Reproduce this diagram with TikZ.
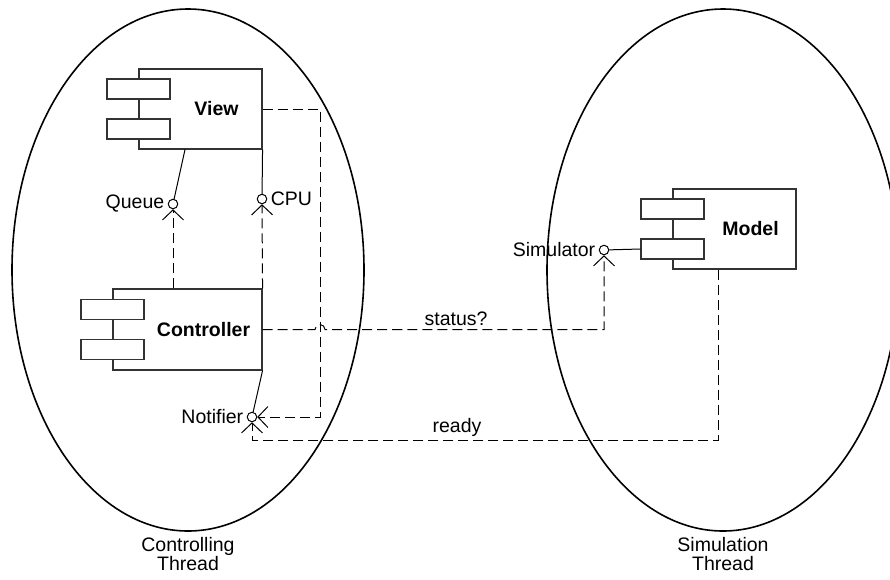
\documentclass[tikz,border=0pt]{standalone}
\usepackage{fontspec}
\setmainfont{Liberation Sans}
\usetikzlibrary{arrows.meta,positioning,calc,shapes.geometric}

\begin{document}
\begin{tikzpicture}[
  x=1pt, y=-1pt,
  thread/.style={ellipse, draw, line width=1.6pt, minimum width=352pt, minimum height=522pt, inner sep=0pt},
  comp/.style={rectangle, draw=black!80, line width=1.1pt, minimum width=123pt, minimum height=80pt, inner sep=0pt},
  port/.style={rectangle, draw=black!80, fill=white, line width=1.1pt, minimum width=63pt, minimum height=20pt, inner sep=0pt},
  iface/.style={circle, draw, line width=1pt, minimum size=9.5pt, inner sep=0pt, label distance=1.5pt},
  compname/.style={font=\fontsize{19.5}{22}\selectfont\bfseries},
  txt/.style={font=\fontsize{19.5}{19.5}\selectfont},
  dep/.style={draw, line width=1pt, dash pattern=on 10pt off 5pt, -{Straight Barb[length=10pt, width=21pt]}},
  link/.style={draw, line width=1pt}
]
\useasboundingbox (0,0) rectangle (890,579);

% threads
\node[thread] (ctrlthread) at (188,270) {};
\node[thread] (simthread) at (723,270) {};
\node[txt, align=center, below=3pt of ctrlthread, inner sep=2pt] (ctrlthread_lbl) {Controlling\\Thread};
\node[txt, align=center, below=3pt of simthread, inner sep=2pt] (simthread_lbl) {Simulation\\Thread};

% components
\node[comp] (view) at (200.5,109) {};
\node[port] (view_p1) at ([yshift=20pt]view.west) {};
\node[port] (view_p2) at ([yshift=-20pt]view.west) {};
\node[compname] (view_name) at ($(view_p1.east |- view.center)!0.5!(view.east)$) {View};

\node[comp, minimum width=149pt, minimum height=81pt] (controller) at (187.5,329.5) {};
\node[port] (controller_p1) at ([yshift=20pt]controller.west) {};
\node[port] (controller_p2) at ([yshift=-20pt]controller.west) {};
\node[compname] (controller_name) at ($(controller_p1.east |- controller.center)!0.5!(controller.east)$) {Controller};

\node[comp] (model) at (734.5,229) {};
\node[port] (model_p1) at ([yshift=20pt]model.west) {};
\node[port] (model_p2) at ([yshift=-20pt]model.west) {};
\node[compname] (model_name) at ($(model_p1.east |- model.center)!0.5!(model.east)$) {Model};

% interfaces
\node[iface, label={[txt]left:Queue}] (queue) at (173,204) {};
\node[iface, label={[txt]right:CPU}] (cpu) at (262,199) {};
\node[iface, label={[txt]left:Notifier}] (notifier) at (252,417) {};
\node[iface, label={[txt]left:Simulator}] (sim) at (604,250) {};

\coordinate (vroute) at (320,109);
\coordinate (hop) at (controller.east -| vroute);
\coordinate (readyline) at (0,440);

% provided interfaces
\draw[link] ([xshift=-15.5pt]view.south) -- (queue);
\draw[link] (view.south east) -- (cpu);
\draw[link] (controller.south east) -- (notifier);
\draw[link] (sim) -- (model_p2.west);

% dependencies
\draw[dep] (controller.north -| queue) -- (queue.south);
\draw[dep] (controller.north east) -- (cpu.south);
\draw[dep] (view.east) -- (vroute) |- (notifier.east);
\draw[dep] (controller.east) -- ([xshift=-5pt]hop) arc[start angle=180, end angle=360, radius=5]
  -- node[txt, above, pos=0.47] (status_lbl) {status?} (controller.east -| sim) -- (sim.south);
\draw[dep] ([xshift=-16.5pt]model.south) |- node[txt, above, pos=0.78] (ready_lbl) {ready} (readyline -| notifier) -- (notifier.south);

\end{tikzpicture}
\end{document}
